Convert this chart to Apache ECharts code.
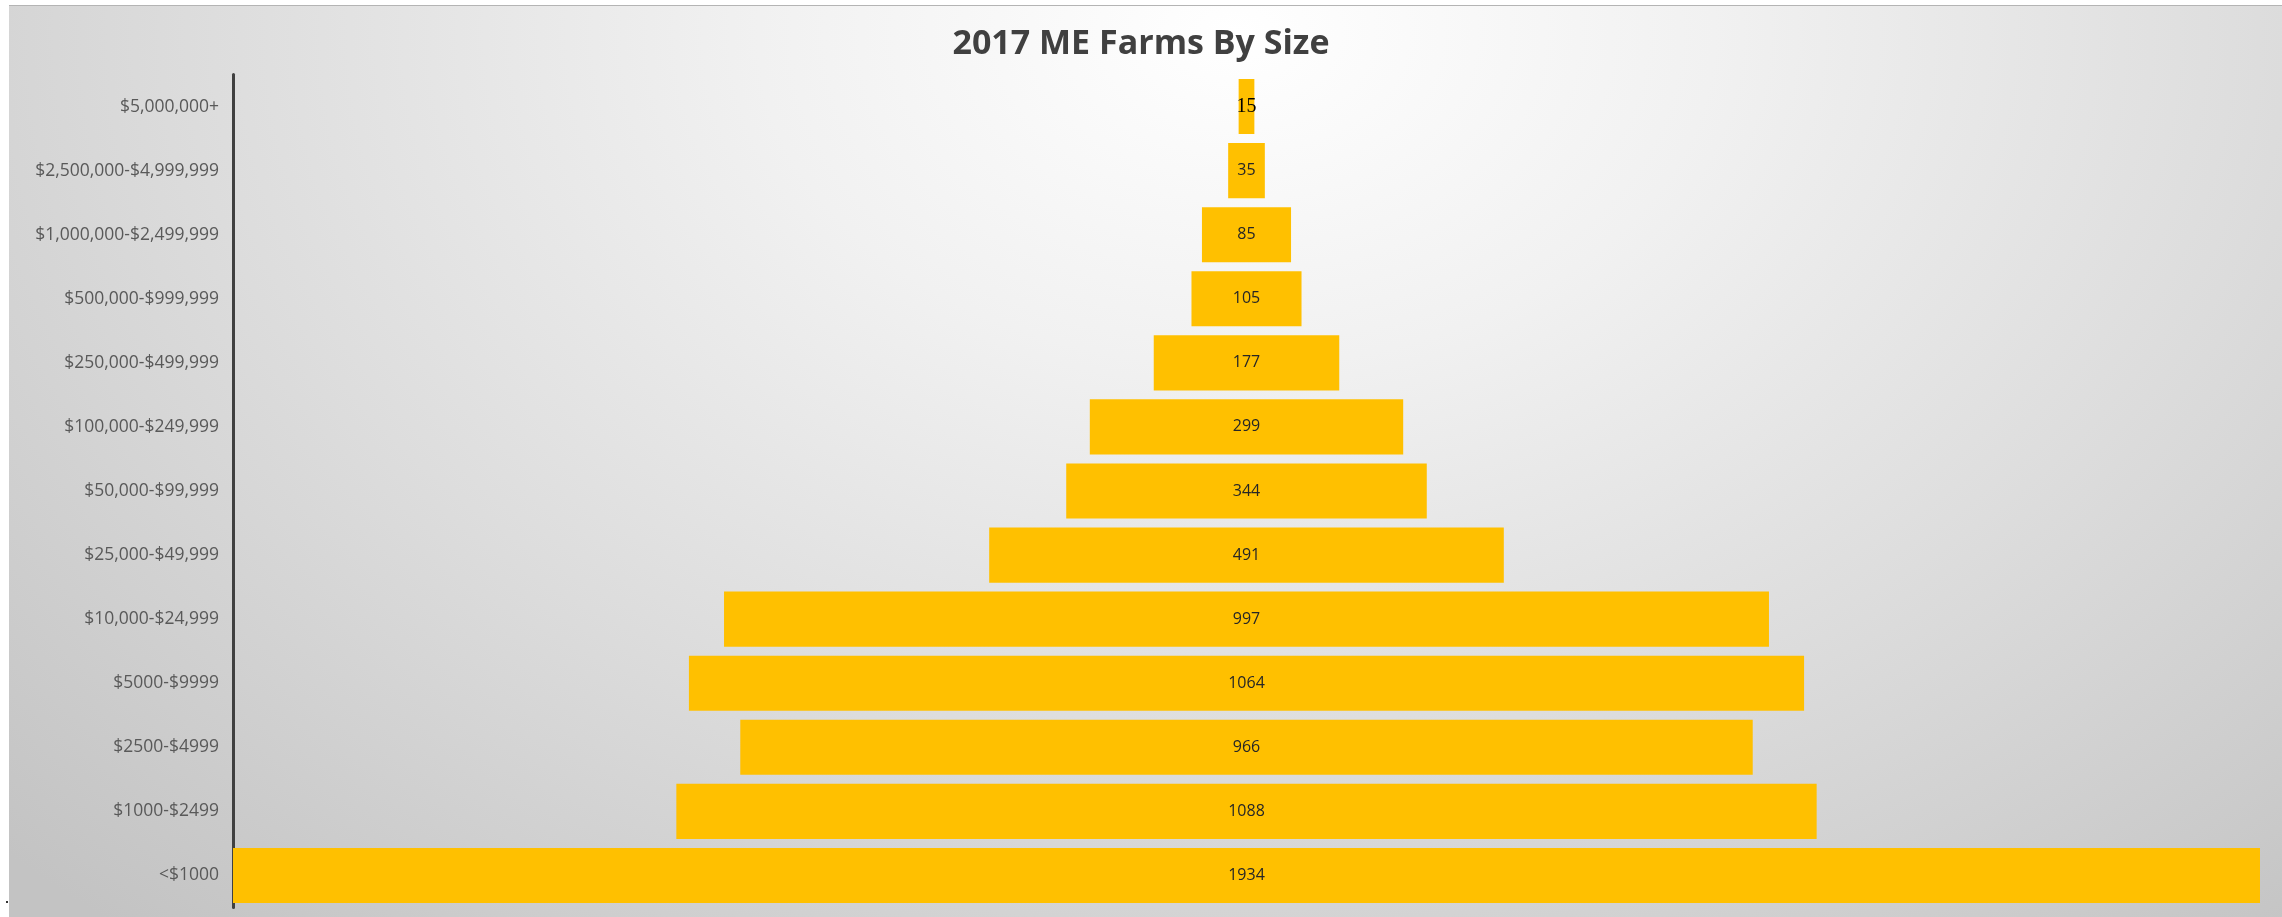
<!DOCTYPE html>
<html>
<head>
<meta charset="utf-8">
<script src="https://cdn.jsdelivr.net/npm/echarts@6/dist/echarts.min.js"></script>
<style>
  html, body { margin: 0; padding: 0; background: #ffffff; width: 2282px; height: 917px; overflow: hidden; }
  #bg { position: absolute; left: 9px; top: 5px; right: 0; bottom: 0;
        border-top: 1.5px solid #b4b4b4;
        background: radial-gradient(ellipse 75% 130% at 54% 3%, #ffffff 0%, #f1f1f1 28%, #dddddd 60%, #c3c3c3 100%); }
  #dot { position: absolute; left: 6px; top: 901px; width: 2px; height: 2px; background: #333; }
  #chart { position: absolute; left: 0; top: 0; width: 2282px; height: 917px; }
</style>
</head>
<body>
<div id="bg"></div>
<div id="dot"></div>
<div id="chart"></div>
<script>
const titleText = '2017 ME Farms By Size';
const categories = ['$5,000,000+', '$2,500,000-$4,999,999', '$1,000,000-$2,499,999', '$500,000-$999,999',
  '$250,000-$499,999', '$100,000-$249,999', '$50,000-$99,999', '$25,000-$49,999', '$10,000-$24,999',
  '$5000-$9999', '$2500-$4999', '$1000-$2499', '<$1000'];
const farms = [15, 35, 85, 105, 177, 299, 344, 491, 997, 1064, 966, 1088, 1934];

const maxVal = Math.max(...farms);
const spacer = farms.map(v => (maxVal - v) / 2);

const chart = echarts.init(document.getElementById('chart'), null, { renderer: 'canvas' });
chart.setOption({
  backgroundColor: 'transparent',
  animation: false,
  title: {
    text: titleText, left: 'center', top: 27, padding: 0,
    textStyle: { fontFamily: 'Open Sans', fontWeight: 'bold', fontSize: 34, color: '#404040' }
  },
  grid: { left: 233, right: 22, top: 74.5, bottom: 9.5, containLabel: false },
  xAxis: {
    type: 'value', min: 0, max: maxVal, show: false
  },
  yAxis: {
    type: 'category', data: categories, inverse: true,
    axisLine: { show: true, lineStyle: { color: '#404040', width: 3 } },
    axisTick: { show: false },
    axisLabel: { fontFamily: 'Open Sans', fontSize: 17.5, color: '#595959', margin: 14 }
  },
  series: [
    {
      type: 'bar', stack: 'p', data: spacer, silent: true,
      itemStyle: { color: 'rgba(0,0,0,0)' }, barCategoryGap: '14%', label: { show: false }
    },
    {
      type: 'bar', stack: 'p', barCategoryGap: '14%',
      data: farms.map((v, i) => i === 0 ? {
        value: v,
        label: { fontFamily: 'Liberation Serif', fontSize: 20, color: '#000000' }
      } : v),
      itemStyle: { color: '#FFC000' },
      label: { show: true, position: 'inside', fontFamily: 'Open Sans', fontSize: 16, color: '#262626', formatter: '{c}' }
    }
  ]
});
</script>
</body>
</html>
